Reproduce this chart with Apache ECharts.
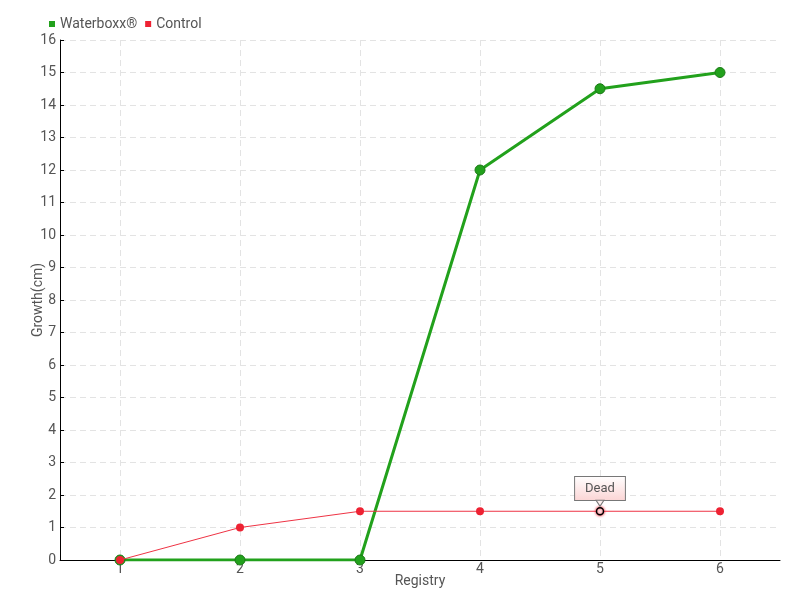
<!DOCTYPE html>
<html><head><meta charset="utf-8">
<script src="https://cdn.jsdelivr.net/npm/echarts@6/dist/echarts.min.js"></script>
<style>html,body{margin:0;padding:0;background:#fff}#c{width:800px;height:600px}</style>
</head><body><div id="c"></div>
<script>
const categories = ['1','2','3','4','5','6'];
const waterboxx = [0, 0, 0, 12, 14.5, 15];
const control = [0, 1, 1.5, 1.5, 1.5, 1.5];
const deadIndex = 4;
const deadLabel = 'Dead';
const FONT = 'Roboto, "Liberation Sans Narrow", sans-serif';

const controlData = control.map((v, i) => i === deadIndex ? {
  value: v,
  symbolSize: 7,
  itemStyle: {color: '#fff', borderColor: '#000', borderWidth: 1.5, shadowColor: '#ee2233', shadowBlur: 3},
  label: {
    show: true, position: 'top', distance: 7, formatter: deadLabel,
    color: '#555', fontFamily: FONT, fontSize: 13,
    backgroundColor: {type: 'linear', x: 0, y: 0, x2: 0, y2: 1,
      colorStops: [{offset: 0, color: '#fff'}, {offset: 1, color: '#fbd4d4'}]},
    borderColor: '#777', borderWidth: 1, padding: [5, 10, 5, 10]
  }
} : v);

const chart = echarts.init(document.getElementById('c'));
chart.setOption({
  animation: false,
  textStyle: {fontFamily: FONT},
  legend: {
    left: 44, top: 12, itemWidth: 6, itemHeight: 6, itemGap: 8, icon: 'rect',
    itemStyle: {borderWidth: 0},
    textStyle: {color: '#555', fontSize: 14, fontFamily: FONT},
    data: ['Waterboxx®', 'Control']
  },
  grid: {left: 60, right: 20, top: 40, bottom: 40},
  xAxis: {
    type: 'category', data: categories, boundaryGap: true,
    name: 'Registry', nameLocation: 'middle', nameGap: 14, nameMoveOverlap: false,
    nameTextStyle: {color: '#555', fontSize: 14, fontFamily: FONT},
    axisLine: {lineStyle: {color: '#000'}},
    axisTick: {alignWithLabel: true, length: 6, lineStyle: {color: '#555'}},
    axisLabel: {color: '#555', fontSize: 14, margin: 2, fontFamily: FONT},
    splitLine: {show: true, alignWithLabel: true, lineStyle: {color: '#e3e3e3', type: [6, 4]}}
  },
  yAxis: {
    type: 'value', min: 0, max: 16, interval: 1,
    name: 'Growth(cm)', nameLocation: 'middle', nameGap: 15, nameMoveOverlap: false,
    nameTextStyle: {color: '#555', fontSize: 14, fontFamily: FONT},
    axisLine: {show: true, lineStyle: {color: '#000'}},
    axisTick: {show: true, inside: true, length: 4, lineStyle: {color: '#000'}},
    axisLabel: {color: '#555', fontSize: 14, margin: 4, fontFamily: FONT},
    splitLine: {show: true, lineStyle: {color: '#e3e3e3', type: [6, 4]}}
  },
  series: [
    {
      name: 'Waterboxx®', type: 'line', data: waterboxx,
      symbol: 'circle', symbolSize: 10, color: '#22a11c',
      lineStyle: {width: 3, color: '#22a11c'},
      itemStyle: {color: '#22a11c', borderColor: '#1b7a16', borderWidth: 1},
      z: 3
    },
    {
      name: 'Control', type: 'line', data: controlData,
      symbol: 'circle', symbolSize: 8, color: '#ee2233',
      lineStyle: {width: 1, color: '#ee3344'},
      itemStyle: {color: '#ee2233'},
      markPoint: {
        silent: true, label: {show: false},
        data: [{coord: [categories[deadIndex], control[deadIndex]], symbol: 'triangle', symbolRotate: 180,
          symbolSize: [8, 6], symbolOffset: [0, -8],
          itemStyle: {color: '#fdf0f0', borderColor: '#777', borderWidth: 1}}]
      },
      z: 4
    }
  ]
});
</script></body></html>
